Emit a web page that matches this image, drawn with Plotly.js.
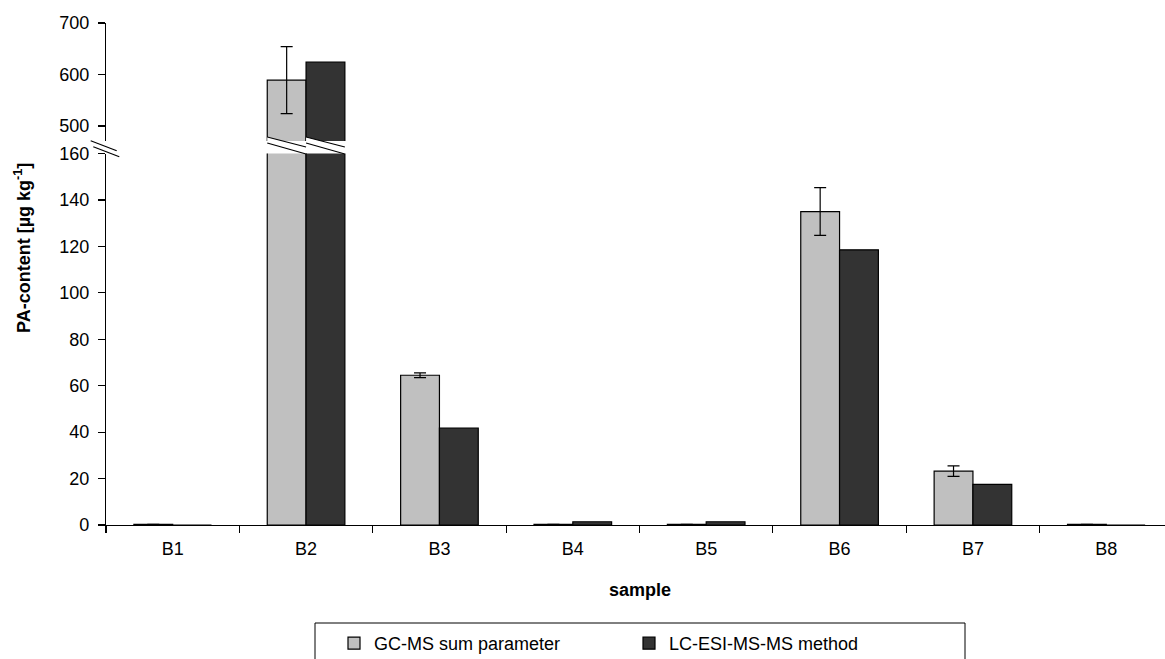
<!DOCTYPE html>
<html>
<head>
<meta charset="utf-8">
<script src="https://cdn.plot.ly/plotly-3.0.1.min.js"></script>
<style>html,body{margin:0;padding:0;background:#fff;}#chart{width:1165px;height:659px;}</style>
</head>
<body>
<div id="chart"></div>
<script>
// ---- data ----
const categories = ['B1','B2','B3','B4','B5','B6','B7','B8'];
const gcValues = [0.3, 589, 64.5, 0.3, 0.3, 135, 23.2, 0.3];
const gcErrors = [0, 65, 1, 0, 0, 10.3, 2.3, 0];
const lcValues = [0, 624, 41.7, 1.4, 1.4, 118.5, 17.5, 0];
const lowTicks = [0, 20, 40, 60, 80, 100, 120, 140, 160];
const highTicks = [500, 600, 700];
const seriesNames = ['GC-MS sum parameter', 'LC-ESI-MS-MS method'];

// ---- layout constants ----
const W = 1165, H = 659;
const mL = 106, mR = 0, mT = 23, mB = 134;
const plotW = W - mL - mR, plotH = H - mT - mB;
const py = p => (H - mB - p) / plotH;   // pixel y -> paper y
const px = p => (p - mL) / plotW;       // pixel x -> paper x
const lowMax = 160, highMin = 471, highMax = 700;
const lowDomain = [0, py(153.5)];
const highDomain = [py(141), 1];
const bargap = 0.418;
const half = (1 - bargap) / 2;

const gcColor = '#c0c0c0', lcColor = '#333333';
const font = {family: 'Liberation Sans, Arial, sans-serif', size: 18, color: '#000'};

const lowErr = gcErrors.map((e, i) => gcValues[i] > lowMax ? 0 : e);
const hiGC = gcValues.map(v => v > lowMax ? v : null);
const hiGCErr = gcErrors.map((e, i) => gcValues[i] > lowMax ? e : 0);
const hiLC = lcValues.map(v => v > lowMax ? v : null);

const errStyle = arr => ({type: 'data', array: arr, visible: true, color: '#000', thickness: 1.2, width: 6});
const mk = (c) => ({color: c, line: {color: '#000', width: 1.2}});

const traces = [
  {type: 'bar', name: seriesNames[0], x: categories, y: gcValues, marker: mk(gcColor), error_y: errStyle(lowErr), xaxis: 'x', yaxis: 'y', offsetgroup: 'a', legendgroup: 'a'},
  {type: 'bar', name: seriesNames[1], x: categories, y: lcValues, marker: mk(lcColor), xaxis: 'x', yaxis: 'y', offsetgroup: 'b', legendgroup: 'b'},
  {type: 'bar', name: seriesNames[0], x: categories, y: hiGC, marker: mk(gcColor), error_y: errStyle(hiGCErr), xaxis: 'x', yaxis: 'y2', offsetgroup: 'a', showlegend: false, legendgroup: 'a'},
  {type: 'bar', name: seriesNames[1], x: categories, y: hiLC, marker: mk(lcColor), xaxis: 'x', yaxis: 'y2', offsetgroup: 'b', showlegend: false, legendgroup: 'b'}
];

// break decorations
const shapes = [];
// legend frame (runs off the bottom edge as in the reference)
shapes.push({type: 'rect', xref: 'paper', yref: 'paper', layer: 'above',
  x0: px(315), x1: px(965), y0: py(623), y1: py(700), line: {color: '#000', width: 1}, fillcolor: 'rgba(0,0,0,0)'});
// axis break marks
shapes.push({type: 'path', xref: 'paper', yref: 'paper', layer: 'above',
  path: `M ${px(90.7)} ${py(140.7)} L ${px(116.7)} ${py(150.7)} L ${px(119.3)} ${py(156.7)} L ${px(93.3)} ${py(146.7)} Z`,
  fillcolor: '#fff', line: {width: 0}});
shapes.push({type: 'line', xref: 'paper', yref: 'paper', layer: 'above', x0: px(90.7), y0: py(140.7), x1: px(116.7), y1: py(150.7), line: {color: '#000', width: 1.2}});
shapes.push({type: 'line', xref: 'paper', yref: 'paper', layer: 'above', x0: px(93.3), y0: py(146.7), x1: px(119.3), y1: py(156.7), line: {color: '#000', width: 1.2}});
// bar break marks for bars exceeding the lower range
categories.forEach((c, i) => {
  [[gcValues[i], -half], [lcValues[i], 0]].forEach(([v, off]) => {
    if (v > lowMax) {
      const x0 = i + off, x1 = i + off + half;
      shapes.push({type: 'path', xref: 'x', yref: 'paper', layer: 'above',
        path: `M ${x0} ${py(137)} L ${x1} ${py(147)} L ${x1} ${py(154)} L ${x0} ${py(143)} Z`,
        fillcolor: '#fff', line: {width: 0}});
      shapes.push({type: 'line', xref: 'x', yref: 'paper', layer: 'above', x0: x0, y0: py(137), x1: x1, y1: py(147), line: {color: '#000', width: 1.2}});
      shapes.push({type: 'line', xref: 'x', yref: 'paper', layer: 'above', x0: x0, y0: py(143), x1: x1, y1: py(154), line: {color: '#000', width: 1.2}});
    }
  });
});

const layout = {
  width: W, height: H,
  margin: {l: mL, r: mR, t: mT, b: mB, autoexpand: false},
  paper_bgcolor: '#fff', plot_bgcolor: '#fff',
  font: font,
  barmode: 'group', bargap: bargap, bargroupgap: 0,
  showlegend: true,
  xaxis: {
    type: 'category', range: [-0.5, 7.44], anchor: 'y',
    showline: true, linecolor: '#000', linewidth: 1.2,
    ticks: 'outside', ticklen: 7, tickcolor: '#000', tickwidth: 1.2, tickson: 'boundaries',
    ticklabelstandoff: 7,
    showgrid: false, zeroline: false, tickfont: font
  },
  yaxis: {
    domain: lowDomain, range: [0, lowMax], tickvals: lowTicks,
    showline: true, linecolor: '#000', linewidth: 1.2,
    ticks: 'outside', ticklen: 7, tickcolor: '#000', tickwidth: 1.2,
    ticklabelstandoff: 5,
    showgrid: false, zeroline: false, tickfont: font
  },
  yaxis2: {
    domain: highDomain, range: [highMin, highMax], tickvals: highTicks, anchor: 'x',
    showline: true, linecolor: '#000', linewidth: 1.2,
    ticks: 'outside', ticklen: 7, tickcolor: '#000', tickwidth: 1.2,
    ticklabelstandoff: 5,
    showgrid: false, zeroline: false, tickfont: font
  },
  legend: {
    orientation: 'h', x: px(334), xanchor: 'left', y: py(625), yanchor: 'top',
    borderwidth: 0, bgcolor: 'rgba(0,0,0,0)',
    font: font, entrywidth: 250, traceorder: 'normal'
  },
  annotations: [
    {text: 'PA-content [µg kg<sup>-1</sup>]', xref: 'paper', yref: 'paper', x: px(22), y: py(248),
     xanchor: 'center', yanchor: 'middle', textangle: -90, showarrow: false,
     font: {family: font.family, size: 18, color: '#000', weight: 'bold'}},
    {text: 'sample', xref: 'paper', yref: 'paper', x: px(640), y: py(590),
     xanchor: 'center', yanchor: 'middle', showarrow: false,
     font: {family: font.family, size: 18, color: '#000', weight: 'bold'}}
  ],
  shapes: shapes
};

Plotly.newPlot('chart', traces, layout, {staticPlot: true, displayModeBar: false});
</script>
</body>
</html>
